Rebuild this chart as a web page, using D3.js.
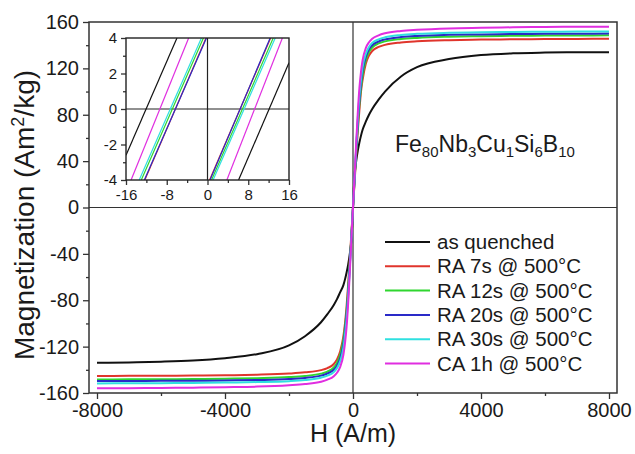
<!DOCTYPE html>
<html>
<head>
<meta charset="utf-8">
<script src="https://cdn.jsdelivr.net/npm/d3@7"></script>
<style>
  body { margin: 0; background: #fff; }
  text { font-family: Arial, "Liberation Sans", sans-serif; fill: #1a1a1a; }
</style>
</head>
<body>
<svg id="chart" width="635" height="454"></svg>
<script>
// field grid (A/m) used for both branches
var hField = [0, 50, 100, 150, 200, 250, 300, 400, 500, 600, 800, 1000, 1500, 2000, 3000, 4000, 5000, 6000, 7000, 8000];

var sampleNames = ["as quenched", "RA 7s @ 500°C", "RA 12s @ 500°C", "RA 20s @ 500°C", "RA 30s @ 500°C", "CA 1h @ 500°C"];
var sampleColors = ["#111111", "#e0352c", "#2fd62f", "#2a2ac8", "#2fe0e0", "#e02ee0"];

// magnetization for H >= 0
var mPos = [
  [0, 28, 40, 49, 56, 62, 67, 74, 80, 85, 93, 100, 113, 121, 128, 131.5, 133, 133.6, 133.9, 134],
  [0, 22, 45, 66, 84, 100, 110, 124, 131, 135, 138.5, 140.3, 142.3, 143.3, 144.3, 144.8, 145.1, 145.3, 145.4, 145.5],
  [0, 24, 48, 70, 89, 103, 114, 127, 134, 138, 141.5, 143.3, 145.3, 146.3, 147.3, 147.8, 148.1, 148.3, 148.4, 148.5],
  [0, 25, 50, 74, 92, 107, 118, 130, 136.5, 140, 143.2, 145, 147, 148, 148.9, 149.3, 149.6, 149.8, 149.9, 150],
  [0, 26, 52, 77, 96, 110, 121, 132.5, 138.5, 142, 145, 146.8, 148.8, 149.8, 150.7, 151.1, 151.4, 151.6, 151.7, 151.8],
  [0, 27, 56, 82, 103, 117, 127, 137.5, 142.5, 145.5, 148.5, 150.3, 152.3, 153.3, 154.5, 155, 155.4, 155.7, 155.9, 156]
];
// magnetization for H <= 0 (same |H| grid)
var mNeg = [
  [0, -28, -40, -49, -56, -62, -67, -73, -79, -84, -92, -99, -111, -119, -126.5, -130, -132, -133, -133.6, -134],
  [0, -22, -45, -66, -85, -100, -111, -124, -131, -135, -138.5, -140.3, -142.2, -143.2, -144.2, -144.7, -145, -145.1, -145.2, -145.3],
  [0, -24, -48, -70, -89, -103, -114, -127, -134, -138, -141.5, -143.3, -145.3, -146.3, -147.2, -147.7, -148, -148.1, -148.2, -148.3],
  [0, -25, -50, -74, -92, -107, -118, -130, -136.5, -140, -143.2, -145, -147, -148, -148.8, -149.2, -149.4, -149.5, -149.6, -149.7],
  [0, -26, -52, -77, -96, -110, -121, -132.5, -138.5, -142, -145, -146.8, -148.8, -149.8, -150.6, -151, -151.3, -151.5, -151.6, -151.8],
  [0, -27, -56, -82, -103, -117, -127, -137.5, -142.5, -145.5, -148.5, -150.3, -152.3, -153.3, -154.5, -155, -155.4, -155.6, -155.8, -156]
];

// inset: branches near the origin, [H, M] end points
var insetDesc = [
  [[-16, -2.6], [-6, 4]],
  [[-12.3, -4], [-0.3, 4]],
  [[-13.0, -4], [-0.8, 4]],
  [[-12.4, -4], [-0.2, 4]],
  [[-13.4, -4], [-1.2, 4]],
  [[-15.0, -4], [-3.7, 4]]
];
var insetAsc = [
  [[6.1, -4], [16, 2.6]],
  [[0.4, -4], [12.4, 4]],
  [[0.8, -4], [12.9, 4]],
  [[0.5, -4], [12.3, 4]],
  [[1.1, -4], [13.3, 4]],
  [[3.8, -4], [14.7, 4]]
];

var xMajor = [-8000, -4000, 0, 4000, 8000];
var xMinor = [-6000, -2000, 2000, 6000];
var yMajor = [-160, -120, -80, -40, 0, 40, 80, 120, 160];
var yMinor = [-140, -100, -60, -20, 20, 60, 100, 140];
var inXMajor = [-16, -8, 0, 8, 16];
var inXMinor = [-12, -4, 4, 12];
var inYMajor = [-4, -2, 0, 2, 4];
var inYMinor = [-3, -1, 1, 3];

var svg = d3.select("#chart");
var plot = { left: 89, right: 617, top: 22, bottom: 393 };

var x = d3.scaleLinear().domain([-8250, 8250]).range([plot.left, plot.right]);
var y = d3.scaleLinear().domain([-160, 160]).range([plot.bottom, plot.top]);

var fmt = function(d) { return String(d); };

function drawAxes(g, xs, ys, b, xMaj, xMin, yMaj, yMin, fs, major, minor, pad) {
  g.append("g").attr("transform", "translate(0," + b.bottom + ")")
    .call(d3.axisBottom(xs).tickValues(xMaj).tickSize(major).tickPadding(pad).tickFormat(fmt));
  g.append("g").attr("transform", "translate(0," + b.bottom + ")")
    .call(d3.axisBottom(xs).tickValues(xMin).tickSize(minor).tickFormat(""));
  g.append("g").attr("transform", "translate(" + b.left + ",0)")
    .call(d3.axisLeft(ys).tickValues(yMaj).tickSize(major).tickPadding(pad).tickFormat(fmt));
  g.append("g").attr("transform", "translate(" + b.left + ",0)")
    .call(d3.axisLeft(ys).tickValues(yMin).tickSize(minor).tickFormat(""));
  g.selectAll(".domain").remove();
  g.selectAll(".tick line").attr("stroke", "#333").attr("stroke-width", 1.3);
  g.selectAll(".tick text").attr("font-size", fs).attr("fill", "#1a1a1a")
    .style("font-family", "Arial, 'Liberation Sans', sans-serif");
}

// main axes
var main = svg.append("g");
drawAxes(main, x, y, plot, xMajor, xMinor, yMajor, yMinor, 20, 6, 3, 4);

// zero lines
main.append("line").attr("x1", plot.left).attr("x2", plot.right)
  .attr("y1", y(0)).attr("y2", y(0)).attr("stroke", "#333").attr("stroke-width", 1.2);
main.append("line").attr("x1", x(0)).attr("x2", x(0))
  .attr("y1", plot.top).attr("y2", plot.bottom).attr("stroke", "#333").attr("stroke-width", 1.2);

// curves
var line = d3.line().x(function(d) { return x(d[0]); }).y(function(d) { return y(d[1]); })
  .curve(d3.curveMonotoneX);

sampleNames.forEach(function(name, i) {
  var pts = [];
  for (var k = hField.length - 1; k > 0; k--) pts.push([-hField[k], mNeg[i][k]]);
  for (var k2 = 0; k2 < hField.length; k2++) pts.push([hField[k2], mPos[i][k2]]);
  main.append("path").datum(pts).attr("d", line)
    .attr("fill", "none").attr("stroke", sampleColors[i]).attr("stroke-width", 2)
    .attr("stroke-linejoin", "round");
});

// frame
main.append("rect").attr("x", plot.left).attr("y", plot.top)
  .attr("width", plot.right - plot.left).attr("height", plot.bottom - plot.top)
  .attr("fill", "none").attr("stroke", "#333").attr("stroke-width", 1.5);

// axis titles
svg.append("text").attr("x", x(0)).attr("y", 442).attr("text-anchor", "middle")
  .attr("font-size", 25).text("H (A/m)");
var yt = svg.append("text").attr("transform", "translate(34,215) rotate(-90)")
  .attr("text-anchor", "middle").attr("font-size", 28);
yt.append("tspan").text("Magnetization (Am");
yt.append("tspan").attr("font-size", 18).attr("dy", -10).text("2");
yt.append("tspan").attr("font-size", 28).attr("dy", 10).text("/kg)");

// composition label
var comp = svg.append("text").attr("x", 395).attr("y", 152).attr("font-size", 23);
var parts = [["Fe", "80"], ["Nb", "3"], ["Cu", "1"], ["Si", "6"], ["B", "10"]];
parts.forEach(function(p, i) {
  comp.append("tspan").attr("dy", i === 0 ? 0 : -5).text(p[0]);
  comp.append("tspan").attr("font-size", 15).attr("dy", 5).text(p[1]);
});

// legend
var leg = svg.append("g");
sampleNames.forEach(function(name, i) {
  var ly = 242 + i * 24.3;
  leg.append("line").attr("x1", 385).attr("x2", 430).attr("y1", ly).attr("y2", ly)
    .attr("stroke", sampleColors[i]).attr("stroke-width", 2);
  leg.append("text").attr("x", 437).attr("y", ly).attr("dy", "0.35em")
    .attr("font-size", 20.5).text(name);
});

// inset
var ib = { left: 126, right: 289, top: 38, bottom: 180 };
var xi = d3.scaleLinear().domain([-16, 16]).range([ib.left, ib.right]);
var yi = d3.scaleLinear().domain([-4, 4]).range([ib.bottom, ib.top]);
var inset = svg.append("g");
inset.append("rect").attr("x", ib.left).attr("y", ib.top)
  .attr("width", ib.right - ib.left).attr("height", ib.bottom - ib.top).attr("fill", "#fff");
drawAxes(inset, xi, yi, ib, inXMajor, inXMinor, inYMajor, inYMinor, 15, 5, 3, 4);
inset.append("line").attr("x1", ib.left).attr("x2", ib.right)
  .attr("y1", yi(0)).attr("y2", yi(0)).attr("stroke", "#222").attr("stroke-width", 1.2);
inset.append("line").attr("x1", xi(0)).attr("x2", xi(0))
  .attr("y1", ib.top).attr("y2", ib.bottom).attr("stroke", "#222").attr("stroke-width", 1.2);

svg.append("clipPath").attr("id", "insetClip").append("rect")
  .attr("x", ib.left).attr("y", ib.top).attr("width", ib.right - ib.left).attr("height", ib.bottom - ib.top);
var iline = d3.line().x(function(d) { return xi(d[0]); }).y(function(d) { return yi(d[1]); });
var ic = inset.append("g").attr("clip-path", "url(#insetClip)");
sampleNames.forEach(function(name, i) {
  [insetDesc[i], insetAsc[i]].forEach(function(seg) {
    ic.append("path").datum(seg).attr("d", iline).attr("fill", "none")
      .attr("stroke", sampleColors[i]).attr("stroke-width", 1.2);
  });
});
inset.append("rect").attr("x", ib.left).attr("y", ib.top)
  .attr("width", ib.right - ib.left).attr("height", ib.bottom - ib.top)
  .attr("fill", "none").attr("stroke", "#222").attr("stroke-width", 1.4);
</script>
</body>
</html>
